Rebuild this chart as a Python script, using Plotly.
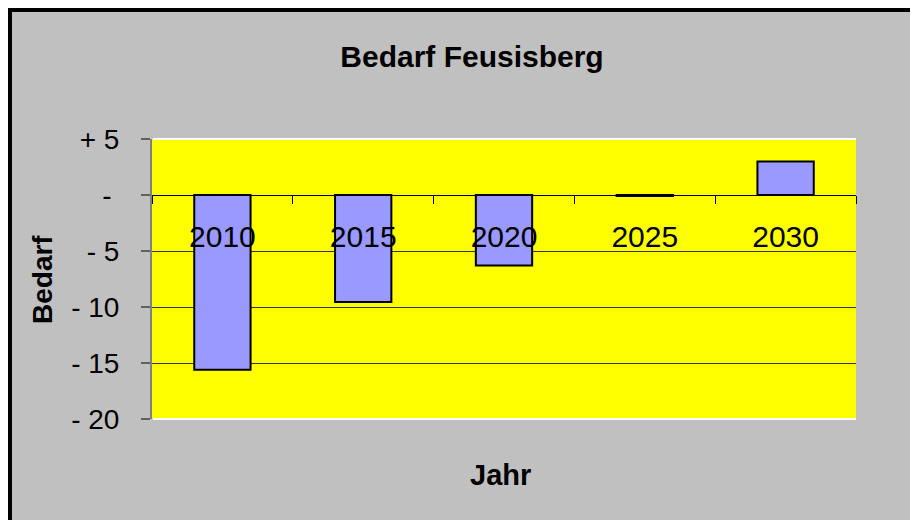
import plotly.graph_objects as go

years = ["2010", "2015", "2020", "2025", "2030"]
bedarf = [-15.6, -9.55, -6.3, -0.1, 3.0]
ytick_vals = [5, 0, -5, -10, -15, -20]
ytick_text = ["+ 5", "-\u00a0", "- 5", "- 10", "- 15", "- 20"]

W, H = 918, 520
ML, MR, MT, MB = 144, 70, 131, 109
PW, PH = W - ML - MR, H - MT - MB


def fx(px):
    return (px - ML) / PW


def fy(py):
    return (H - MB - py) / PH


FONT = "Liberation Sans, Arial, sans-serif"

fig = go.Figure(
    go.Bar(
        x=years,
        y=bedarf,
        width=0.4,
        marker=dict(color="#9999FF", line=dict(color="black", width=2)),
    )
)

shapes = [
    # black chart border (top / left)
    dict(type="rect", xref="paper", yref="paper", x0=fx(0), x1=fx(W), y0=fy(4), y1=fy(0),
         fillcolor="black", line=dict(width=0), layer="below"),
    dict(type="rect", xref="paper", yref="paper", x0=fx(0), x1=fx(4), y0=fy(H), y1=fy(0),
         fillcolor="black", line=dict(width=0), layer="below"),
    # white edges of plot area
    dict(type="line", xref="paper", yref="paper", x0=fx(ML + 1), x1=1, y0=1, y1=1,
         line=dict(color="white", width=2), layer="above"),
    dict(type="line", xref="paper", yref="paper", x0=fx(ML + 1), x1=1, y0=0, y1=0,
         line=dict(color="white", width=2), layer="above"),
]

fig.update_layout(
    width=W,
    height=H,
    margin=dict(l=ML, r=MR, t=MT, b=MB, pad=0),
    paper_bgcolor="#C0C0C0",
    plot_bgcolor="#FFFF00",
    showlegend=False,
    font=dict(family=FONT, color="black", size=28),
    title=dict(
        text="<b>Bedarf Feusisberg</b>",
        x=464 / W,
        xref="container",
        xanchor="center",
        y=1 - 48 / H,
        yref="container",
        yanchor="middle",
        font=dict(family=FONT, size=30, color="black"),
    ),
    shapes=shapes,
    annotations=[
        dict(text="<b>Bedarf</b>", xref="paper", yref="paper", x=fx(34), y=fy(272),
             textangle=-90, showarrow=False, xanchor="center", yanchor="middle",
             font=dict(family=FONT, size=28, color="black")),
        dict(text="<b>Jahr</b>", xref="paper", yref="paper", x=fx(492), y=fy(467),
             showarrow=False, xanchor="center", yanchor="middle",
             font=dict(family=FONT, size=29, color="black")),
    ],
    bargap=0.6,
)

fig.update_xaxes(
    type="category",
    anchor="free",
    position=0.8,
    showline=True,
    linecolor="black",
    linewidth=1,
    ticks="outside",
    tickson="boundaries",
    ticklen=8,
    tickcolor="black",
    tickwidth=1,
    ticklabelstandoff=15,
    showgrid=False,
    tickfont=dict(family=FONT, size=30, color="black"),
    fixedrange=True,
)

fig.update_yaxes(
    range=[-20, 5],
    tickvals=ytick_vals,
    ticktext=ytick_text,
    showline=True,
    linecolor="#808080",
    linewidth=2,
    ticks="outside",
    ticklen=9,
    tickcolor="#606060",
    tickwidth=2,
    ticklabelstandoff=16,
    showgrid=True,
    gridcolor="#333333",
    gridwidth=1,
    zeroline=True,
    zerolinecolor="black",
    zerolinewidth=1,
    tickfont=dict(family=FONT, size=28, color="black"),
    fixedrange=True,
)

fig.write_html("out.html")
